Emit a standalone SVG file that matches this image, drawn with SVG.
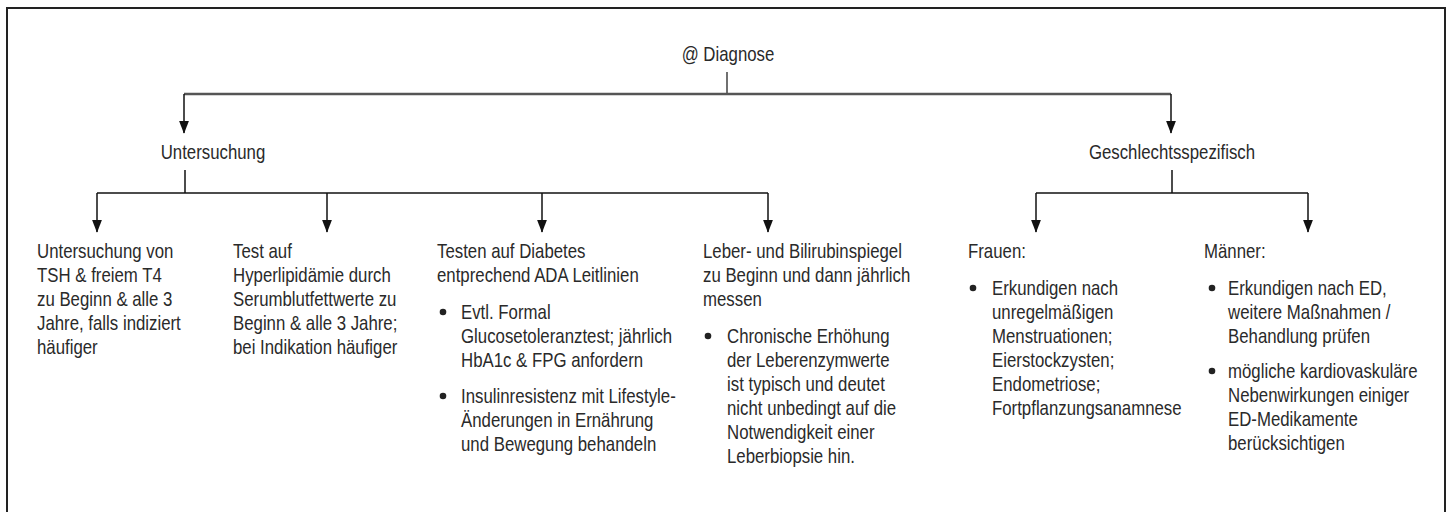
<svg xmlns="http://www.w3.org/2000/svg" width="1448" height="512" viewBox="0 0 1448 512">
<defs>
<style>
text{font-family:"Liberation Sans Narrow","Liberation Sans",Arial,sans-serif;font-size:20.5px;fill:#2a2a2a}
.c{text-anchor:middle}
.ln{stroke:#111;stroke-width:1.5;fill:none}
.top{stroke:#555;stroke-width:2.5;fill:none}
.dot{fill:#222}
</style>
<marker id="arr" markerUnits="userSpaceOnUse" markerWidth="13" markerHeight="17" refX="16" refY="6.5" orient="auto" viewBox="0 0 17 13">
<path d="M0,0 L17,6.5 L0,13 Z" fill="#111"/>
</marker>
</defs>
<rect x="7" y="8" width="1438" height="520" fill="#fff" stroke="#222" stroke-width="2"/>
<g id="connectors">
<line class="ln" x1="727" y1="72" x2="727" y2="94" style="stroke-width:1.2"/>
<line class="top" x1="184" y1="94" x2="1171" y2="94"/>
<line class="ln" x1="184" y1="94" x2="184" y2="133" marker-end="url(#arr)"/>
<line class="ln" x1="1171" y1="94" x2="1171" y2="133" marker-end="url(#arr)"/>
<line class="ln" x1="185" y1="170" x2="185" y2="193"/>
<line class="ln" x1="97" y1="193" x2="768" y2="193"/>
<line class="ln" x1="97" y1="193" x2="97" y2="232" marker-end="url(#arr)"/>
<line class="ln" x1="327" y1="193" x2="327" y2="232" marker-end="url(#arr)"/>
<line class="ln" x1="542" y1="193" x2="542" y2="232" marker-end="url(#arr)"/>
<line class="ln" x1="768" y1="193" x2="768" y2="232" marker-end="url(#arr)"/>
<line class="ln" x1="1172" y1="170" x2="1172" y2="193"/>
<line class="ln" x1="1036" y1="193" x2="1308" y2="193"/>
<line class="ln" x1="1036" y1="193" x2="1036" y2="232" marker-end="url(#arr)"/>
<line class="ln" x1="1308" y1="193" x2="1308" y2="232" marker-end="url(#arr)"/>
</g>
<g id="diagnose"><text class="c" transform="matrix(0.82 0 0 1 728 61)">@ Diagnose</text></g>
<g id="untersuchung"><text class="c" transform="matrix(0.82 0 0 1 213 159)">Untersuchung</text></g>
<g id="geschlecht"><text class="c" transform="matrix(0.82 0 0 1 1172 159)">Geschlechtsspezifisch</text></g>
<g id="tsh"><g transform="matrix(0.82 0 0 1 37 0)">
<text x="0" y="258">Untersuchung von</text>
<text x="0" y="282">TSH &amp; freiem T4</text>
<text x="0" y="306">zu Beginn &amp; alle 3</text>
<text x="0" y="330">Jahre, falls indiziert</text>
<text x="0" y="354">häufiger</text>
</g></g>
<g id="lipid"><g transform="matrix(0.82 0 0 1 233 0)">
<text x="0" y="258">Test auf</text>
<text x="0" y="282">Hyperlipidämie durch</text>
<text x="0" y="306">Serumblutfettwerte zu</text>
<text x="0" y="330">Beginn &amp; alle 3 Jahre;</text>
<text x="0" y="354">bei Indikation häufiger</text>
</g></g>
<g id="diabetes">
<circle class="dot" cx="443" cy="312" r="3.3"/>
<circle class="dot" cx="443" cy="396" r="3.3"/>
<g transform="matrix(0.82 0 0 1 437 0)">
<text x="0" y="258">Testen auf Diabetes</text>
<text x="0" y="282">entprechend ADA Leitlinien</text>
<text x="29.27" y="319">Evtl. Formal</text>
<text x="29.27" y="343">Glucosetoleranztest; jährlich</text>
<text x="29.27" y="367">HbA1c &amp; FPG anfordern</text>
<text x="29.27" y="403">Insulinresistenz mit Lifestyle-</text>
<text x="29.27" y="427">Änderungen in Ernährung</text>
<text x="29.27" y="451">und Bewegung behandeln</text>
</g></g>
<g id="leber">
<circle class="dot" cx="708" cy="336" r="3.3"/>
<g transform="matrix(0.82 0 0 1 703 0)">
<text x="0" y="258">Leber- und Bilirubinspiegel</text>
<text x="0" y="282">zu Beginn und dann jährlich</text>
<text x="0" y="306">messen</text>
<text x="29.27" y="343">Chronische Erhöhung</text>
<text x="29.27" y="367">der Leberenzymwerte</text>
<text x="29.27" y="391">ist typisch und deutet</text>
<text x="29.27" y="415">nicht unbedingt auf die</text>
<text x="29.27" y="439">Notwendigkeit einer</text>
<text x="29.27" y="463">Leberbiopsie hin.</text>
</g></g>
<g id="frauen">
<circle class="dot" cx="973" cy="288" r="3.3"/>
<g transform="matrix(0.82 0 0 1 968 0)">
<text x="0" y="258">Frauen:</text>
<text x="29.27" y="295">Erkundigen nach</text>
<text x="29.27" y="319">unregelmäßigen</text>
<text x="29.27" y="343">Menstruationen;</text>
<text x="29.27" y="367">Eierstockzysten;</text>
<text x="29.27" y="391">Endometriose;</text>
<text x="29.27" y="415">Fortpflanzungsanamnese</text>
</g></g>
<g id="maenner">
<circle class="dot" cx="1212" cy="288" r="3.3"/>
<circle class="dot" cx="1212" cy="371" r="3.3"/>
<g transform="matrix(0.82 0 0 1 1204 0)">
<text x="0" y="258">Männer:</text>
<text x="29.27" y="295">Erkundigen nach ED,</text>
<text x="29.27" y="319">weitere Maßnahmen /</text>
<text x="29.27" y="343">Behandlung prüfen</text>
<text x="29.27" y="378">mögliche kardiovaskuläre</text>
<text x="29.27" y="402">Nebenwirkungen einiger</text>
<text x="29.27" y="426">ED-Medikamente</text>
<text x="29.27" y="450">berücksichtigen</text>
</g></g>
</svg>
